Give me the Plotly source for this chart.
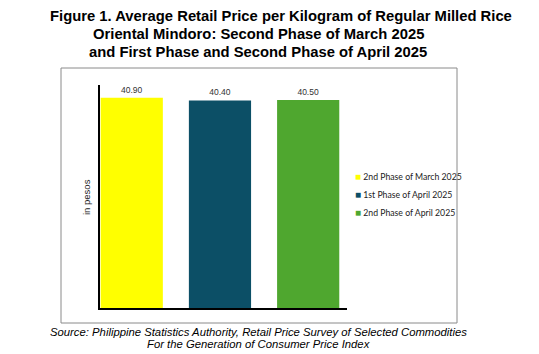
import plotly.graph_objects as go

categories = ["2nd Phase of March 2025", "1st Phase of April 2025", "2nd Phase of April 2025"]
values = [40.90, 40.40, 40.50]
colors = ["#FFFF00", "#0C4F66", "#4FA72F"]

title_lines = [
    "Figure 1. Average Retail Price per Kilogram of Regular Milled Rice",
    "Oriental Mindoro: Second Phase of March 2025",
    "and First Phase and Second Phase of April 2025",
]
source_lines = [
    "Source: Philippine Statistics Authority, Retail Price Survey of Selected Commodities",
    "For the Generation of Consumer Price Index",
]

W, H = 539, 354
L, R, T, B = 100, 347, 85, 308

fig = go.Figure()
for i, (c, v, col) in enumerate(zip(categories, values, colors)):
    fig.add_trace(go.Bar(
        x=[i], y=[v], name=c, marker=dict(color=col, line=dict(width=0)),
        width=0.705, text=[f"{v:.2f}"], textposition="outside",
        textfont=dict(family="Liberation Sans, Arial", size=8.5, color="#333333"),
        cliponaxis=False, showlegend=False,
    ))

def px(x):
    return (x - L) / (R - L)

def py(y):
    return (B - y) / (B - T)

annotations = []
for txt, cx, cy in zip(title_lines, [281, 258, 258], [16, 34, 52]):
    annotations.append(dict(text=f"<b>{txt}</b>", x=px(cx), y=py(cy), xref="paper", yref="paper",
                            showarrow=False, xanchor="center", yanchor="middle",
                            font=dict(family="Liberation Sans, Arial", size=14.8, color="#000000")))
for txt, cy in zip(source_lines, [332, 344]):
    annotations.append(dict(text=f"<i>{txt}</i>", x=px(258), y=py(cy), xref="paper", yref="paper",
                            showarrow=False, xanchor="center", yanchor="middle",
                            font=dict(family="Liberation Sans, Arial", size=11.3, color="#000000")))
annotations.append(dict(text="in pesos", x=px(86), y=py(197), xref="paper", yref="paper",
                        showarrow=False, textangle=-90, xanchor="center", yanchor="middle",
                        font=dict(family="Liberation Sans, Arial", size=9.5, color="#222222")))

# legend built as text entries with coloured square glyphs
for i, (c, col) in enumerate(zip(categories, colors)):
    annotations.append(dict(text=f'<span style="color:{col};font-size:10px">■</span> {c}',
                            x=px(353), y=py(176 + 18 * i), xref="paper", yref="paper",
                            showarrow=False, xanchor="left", yanchor="middle",
                            font=dict(family="Lato, Liberation Sans", size=8.7, color="#222222")))

fig.update_layout(
    width=W, height=H,
    margin=dict(l=L, r=W - R, t=T, b=H - B),
    paper_bgcolor="white", plot_bgcolor="white",
    barmode="overlay",
    showlegend=False,
    xaxis=dict(range=[-0.36, 2.44], showticklabels=False, ticks="", showgrid=False, zeroline=False,
               showline=True, linecolor="#000000", linewidth=1.5),
    yaxis=dict(range=[0, 43.4], showticklabels=False, ticks="", showgrid=False, zeroline=False,
               showline=True, linecolor="#000000", linewidth=1.5),
    annotations=annotations,
    shapes=[dict(type="rect", xref="paper", yref="paper", x0=px(61), x1=px(457), y0=py(323), y1=py(68),
                 line=dict(color="#8A8A8A", width=1), fillcolor="rgba(0,0,0,0)", layer="below")],
)

fig.write_html("out.html")
